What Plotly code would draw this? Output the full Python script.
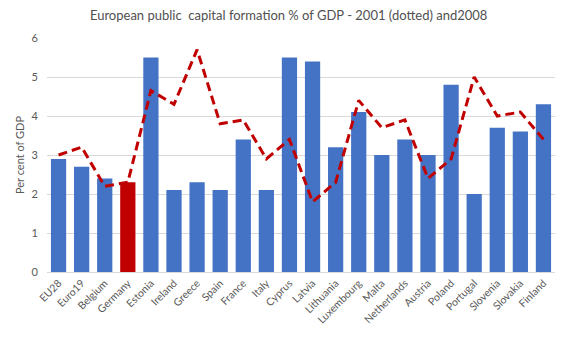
import plotly.graph_objects as go

countries = ["EU28", "Euro19", "Belgium", "Germany", "Estonia", "Ireland", "Greece", "Spain",
             "France", "Italy", "Cyprus", "Latvia", "Lithuania", "Luxembourg", "Malta",
             "Netherlands", "Austria", "Poland", "Portugal", "Slovenia", "Slovakia", "Finland"]
values_2008 = [2.9, 2.7, 2.4, 2.3, 5.5, 2.1, 2.3, 2.1, 3.4, 2.1, 5.5, 5.4, 3.2, 4.1, 3.0,
               3.4, 3.0, 4.8, 2.0, 3.7, 3.6, 4.3]
values_2001 = [3.0, 3.2, 2.2, 2.3, 4.65, 4.3, 5.7, 3.8, 3.9, 2.9, 3.4, 1.8, 2.3, 4.4, 3.7,
               3.9, 2.4, 2.9, 5.0, 4.0, 4.1, 3.4]
y_ticks = [0, 1, 2, 3, 4, 5, 6]

bar_colors = ["#C00000" if c == "Germany" else "#4472C4" for c in countries]

fig = go.Figure()
fig.add_trace(go.Bar(x=countries, y=values_2008, marker=dict(color=bar_colors, line=dict(width=0)),
                     name="2008"))
fig.add_trace(go.Scatter(x=countries, y=values_2001, mode="lines",
                         line=dict(color="#C00000", width=3, dash="9px,5px"), name="2001"))

font_family = "Lato, 'Open Sans', sans-serif"
fig.update_layout(
    width=566, height=340,
    margin=dict(l=47, r=11, t=38, b=68),
    paper_bgcolor="white", plot_bgcolor="white",
    showlegend=False,
    bargap=0.34,
    title=dict(text="European public  capital formation % of GDP - 2001 (dotted) and2008",
               x=0.51, xanchor="center", y=0.955, yanchor="middle",
               font=dict(family=font_family, size=13, color="#505050")),
    font=dict(family=font_family, color="#595959", size=11),
)
fig.update_xaxes(tickangle=-45, showgrid=False, showline=True, linecolor="#D9D9D9",
                 ticks="", tickfont=dict(size=10.5, color="#595959"))
fig.update_yaxes(range=[0, 6], tickvals=y_ticks, showgrid=True, gridcolor="#D9D9D9",
                 zeroline=False, showline=False, ticks="", ticklabelstandoff=8,
                 title=dict(text="Per cent of GDP", font=dict(size=11, color="#595959"), standoff=4),
                 tickfont=dict(size=11, color="#595959"))

fig.write_html("out.html")
